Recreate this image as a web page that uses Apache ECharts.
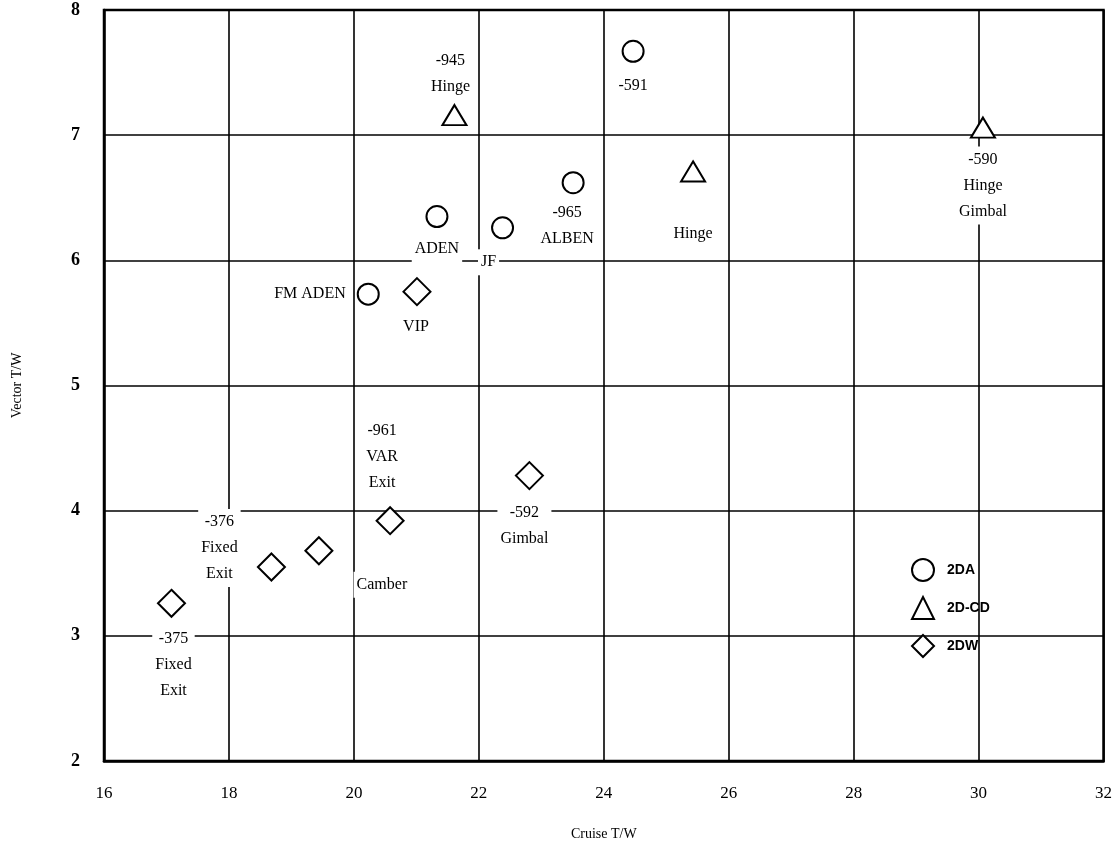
<!DOCTYPE html>
<html>
<head>
<meta charset="utf-8">
<script src="https://cdn.jsdelivr.net/npm/echarts@6/dist/echarts.min.js"></script>
<style>
html,body{margin:0;padding:0;background:#fff;}
#chart{width:1115px;height:847px;}
</style>
</head>
<body>
<div id="chart"></div>
<script>
// ---- data ----
var xTicks = [16, 18, 20, 22, 24, 26, 28, 30, 32];
var yTicks = [2, 3, 4, 5, 6, 7, 8];
var seriesNames = ['2DA', '2D-CD', '2DW'];

// 2DA (circles)
var da_x = [24.47, 23.51, 21.33, 22.38, 20.23];
var da_y = [7.67, 6.62, 6.35, 6.26, 5.73];
var da_labels = ['-591', '-965\nALBEN', 'ADEN', 'JF', 'FM ADEN'];

// 2D-CD (triangles)
var cd_x = [21.61, 25.43, 30.07];
var cd_y = [7.16, 6.71, 7.06];
var cd_labels = ['-945\nHinge', 'Hinge', '-590\nHinge\nGimbal'];

// 2DW (diamonds)
var dw_x = [21.01, 22.81, 20.58, 19.44, 18.68, 17.08];
var dw_y = [5.75, 4.28, 3.92, 3.68, 3.55, 3.26];
var dw_labels = ['VIP', '-592\nGimbal', '-961\nVAR\nExit', 'Camber', '-376\nFixed\nExit', '-375\nFixed\nExit'];

// ---- label placement (style only) ----
var da_place = [
  {position: 'bottom', distance: 10},
  {position: 'bottom', distance: 6, offset: [-6, 0]},
  {position: 'bottom', distance: 8},
  {position: 'bottom', distance: 10, offset: [-14, 0]},
  {position: 'left', distance: 8}
];
var cd_place = [
  {position: 'top', distance: 4, offset: [-4, 0]},
  {position: 'bottom', distance: 38},
  {position: 'bottom', distance: 8}
];
var dw_place = [
  {position: 'bottom', distance: 8, offset: [-1, 0]},
  {position: 'bottom', distance: 10, offset: [-5, 0]},
  {position: 'top', distance: 10, offset: [-8, 0]},
  {position: 'inside', offset: [63, 34]},
  {position: 'inside', offset: [-52, -19]},
  {position: 'bottom', distance: 8, offset: [2, 0]}
];

var labelFont = {
  fontFamily: 'Liberation Serif',
  fontSize: 16,
  lineHeight: 26,
  color: '#000',
  backgroundColor: '#fff',
  padding: [0, 3]
};

function build(xs, ys, labels, places) {
  return xs.map(function (x, i) {
    var p = places[i];
    var lab = Object.assign({show: true, formatter: labels[i]}, labelFont, p);
    if (p.position !== 'left' && p.position !== 'right') lab.align = 'center';
    return {value: [x, ys[i]], label: lab};
  });
}

var markerStyle = {color: '#fff', borderColor: '#000', borderWidth: 2, opacity: 1};

var chart = echarts.init(document.getElementById('chart'), null, {renderer: 'canvas'});
chart.setOption({
  backgroundColor: '#fff',
  animation: false,
  grid: {left: 104, right: 8, top: 10, bottom: 86, show: true, borderColor: '#000', borderWidth: 2.5},
  xAxis: {
    type: 'value', min: xTicks[0], max: xTicks[xTicks.length - 1], interval: 2,
    axisLine: {show: true, lineStyle: {color: '#000', width: 2.5}},
    axisTick: {show: false},
    splitLine: {show: true, lineStyle: {color: '#000', width: 1.6}},
    axisLabel: {margin: 24, color: '#000', fontFamily: 'Liberation Serif', fontSize: 17},
    name: 'Cruise T/W', nameLocation: 'middle', nameGap: 66,
    nameTextStyle: {fontFamily: 'Liberation Serif', fontSize: 14, color: '#000'}
  },
  yAxis: {
    type: 'value', min: yTicks[0], max: yTicks[yTicks.length - 1], interval: 1,
    axisLine: {show: true, lineStyle: {color: '#000', width: 2.5}},
    axisTick: {show: false},
    splitLine: {show: true, lineStyle: {color: '#000', width: 1.6}},
    axisLabel: {margin: 24, color: '#000', fontFamily: 'Liberation Serif', fontSize: 18, fontWeight: 'bold'},
    name: 'Vector T/W', nameLocation: 'middle', nameGap: 80, nameRotate: 90,
    nameTextStyle: {fontFamily: 'Liberation Serif', fontSize: 14, color: '#000'}
  },
  legend: {
    orient: 'vertical', left: 906, top: 553, itemGap: 14,
    itemWidth: 22, itemHeight: 22,
    textStyle: {fontFamily: 'Liberation Sans', fontSize: 14, fontWeight: 'bold', color: '#000', padding: [0, 0, 0, 8]},
    data: seriesNames
  },
  series: [
    {name: seriesNames[0], type: 'scatter', symbol: 'circle', symbolSize: 21,
     itemStyle: markerStyle, data: build(da_x, da_y, da_labels, da_place), z: 5},
    {name: seriesNames[1], type: 'scatter', symbol: 'triangle', symbolSize: [24, 20],
     itemStyle: markerStyle, data: build(cd_x, cd_y, cd_labels, cd_place), z: 5},
    {name: seriesNames[2], type: 'scatter', symbol: 'diamond', symbolSize: 27,
     itemStyle: markerStyle, data: build(dw_x, dw_y, dw_labels, dw_place), z: 5}
  ]
});
</script>
</body>
</html>
